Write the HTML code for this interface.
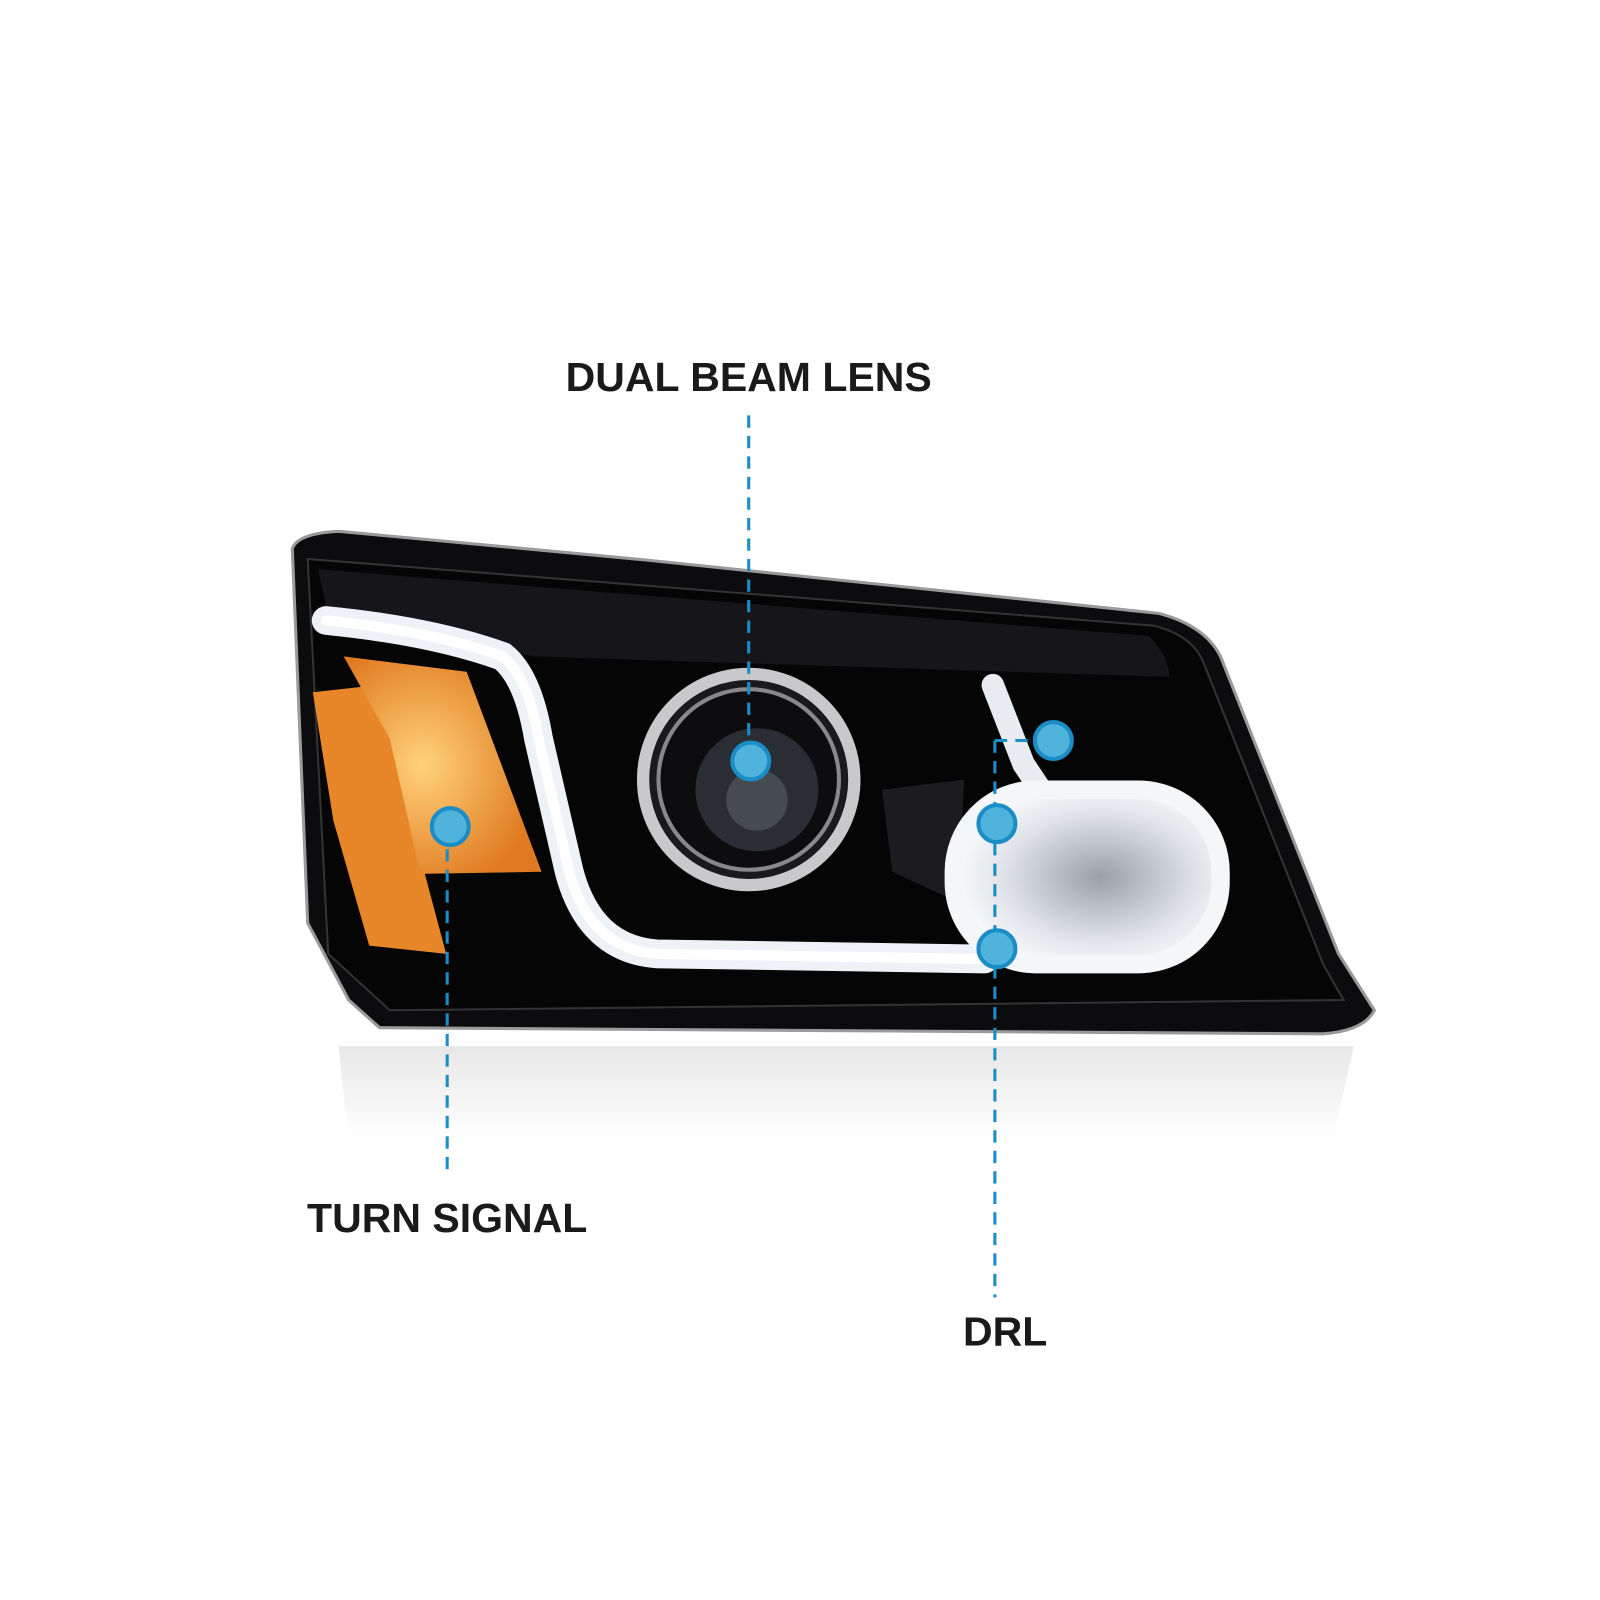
<!DOCTYPE html>
<html><head><meta charset="utf-8"><style>
html,body{margin:0;padding:0;background:#fff;width:1600px;height:1600px;overflow:hidden}
svg{display:block}
text{font-family:"Liberation Sans",sans-serif;font-weight:bold;fill:#1a1a1a}
</style></head><body>
<svg width="1600" height="1600" viewBox="0 0 1560 1560" xmlns="http://www.w3.org/2000/svg">
<defs>
<linearGradient id="refl" x1="0" y1="0" x2="0" y2="1"><stop offset="0" stop-color="#d8d8d8"/><stop offset="1" stop-color="#fff"/></linearGradient>
<radialGradient id="amb" cx="0.4" cy="0.5" r="0.6"><stop offset="0" stop-color="#ffd27a"/><stop offset="1" stop-color="#e07a20"/></radialGradient>
<radialGradient id="drl" cx="0.55" cy="0.5" r="0.6"><stop offset="0" stop-color="#9aa0a8"/><stop offset="0.6" stop-color="#dfe3e8"/><stop offset="1" stop-color="#fff"/></radialGradient>
</defs>
<path d="M330 1020 L1320 1020 L1300 1110 L340 1110 Z" fill="url(#refl)" opacity="0.6"/>
<path d="M285 535 Q290 520 330 518 L630 546 L1130 598 Q1175 610 1190 640 L1305 930 L1340 985 Q1330 1005 1290 1008 L370 1002 L340 975 L300 900 Z" fill="#0c0c0e" stroke="#9a9a9a" stroke-width="3"/>
<path d="M300 545 L1125 610 Q1165 620 1175 650 L1290 940 L1310 975 L380 985 L320 930 Z" fill="#050506" stroke="#333" stroke-width="2"/>
<path d="M310 555 L1120 620 Q1140 640 1140 660 L520 640 L320 600 Z" fill="#16161a"/>
<path d="M305 675 L368 668 L395 780 L435 930 L360 922 L325 800 Z" fill="#e8862a"/>
<path d="M335 640 L455 655 L528 850 L410 852 L380 720 Z" fill="url(#amb)"/>
<path d="M318 605 Q420 615 490 640 Q515 660 525 720 L555 850 Q575 925 640 930 L960 935" fill="none" stroke="#eef2f6" stroke-width="28" stroke-linecap="round"/>
<path d="M318 605 Q420 615 490 640 Q515 660 525 720 L555 850 Q575 925 640 930 L960 935" fill="none" stroke="#ffffff" stroke-width="10" stroke-linecap="round"/>
<circle cx="730" cy="760" r="103" fill="#1a1a1e" stroke="#c9c9cc" stroke-width="12"/>
<circle cx="730" cy="760" r="88" fill="#0d0d10" stroke="#888" stroke-width="4"/>
<circle cx="738" cy="770" r="60" fill="#2a2d33"/>
<circle cx="738" cy="780" r="30" fill="#5a5e66" opacity="0.6"/>
<path d="M860 770 L940 760 L935 880 L870 850 Z" fill="#1c1c20"/>
<path d="M968 668 L998 745 L1028 790" fill="none" stroke="#e8ecf0" stroke-width="22" stroke-linecap="round"/>
<rect x="930" y="770" width="260" height="170" rx="80" fill="url(#drl)" stroke="#f4f6f8" stroke-width="18"/>
<g stroke="#1b8dc6" stroke-width="3" stroke-dasharray="12 8" fill="none">
<line x1="730" y1="405" x2="730" y2="740"/>
<line x1="436" y1="808" x2="436" y2="1145"/>
<line x1="970" y1="722" x2="970" y2="1265"/>
<line x1="970" y1="722" x2="1015" y2="722"/>
</g>
<g fill="#4fb3dc" stroke="#1b8dc6" stroke-width="4">
<circle cx="732" cy="742" r="18"/>
<circle cx="439" cy="806" r="18"/>
<circle cx="1027" cy="722" r="18"/>
<circle cx="972" cy="803" r="18"/>
<circle cx="972" cy="925" r="18"/>
</g>
<text x="730" y="381" font-size="40" text-anchor="middle">DUAL BEAM LENS</text>
<text x="436" y="1201" font-size="40" text-anchor="middle">TURN SIGNAL</text>
<text x="980" y="1312" font-size="40" text-anchor="middle">DRL</text>
</svg>
</body></html>
